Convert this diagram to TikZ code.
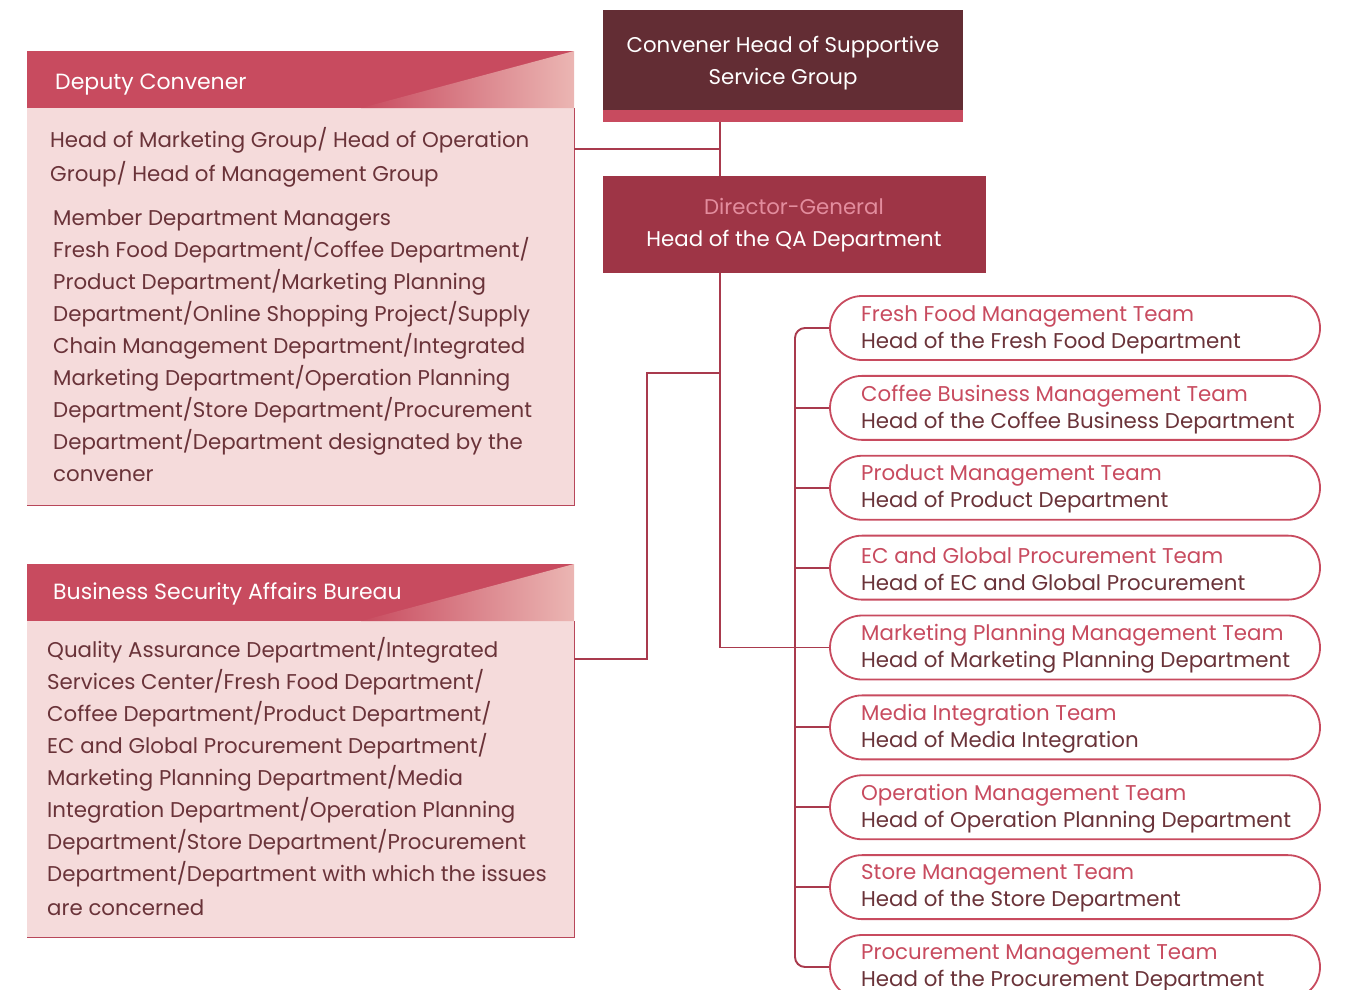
\documentclass[tikz,border=0pt]{standalone}
\usepackage{fontspec}
\setmainfont{Poppins}
\definecolor{hdr}{HTML}{C84B5F}
\definecolor{hdrlight}{HTML}{EBB6B3}
\definecolor{bodypink}{HTML}{F5DBDB}
\definecolor{ink}{HTML}{6A3339}
\definecolor{convfill}{HTML}{632D34}
\definecolor{dgred}{HTML}{9E3546}
\definecolor{dgpink}{HTML}{E38D9E}
\definecolor{wire}{HTML}{A93A4D}
\definecolor{edge}{HTML}{B8475A}
\begin{document}
\begin{tikzpicture}[x=1pt,y=-1pt,
  bodyline/.style={inner sep=0pt, font=\fontsize{21.35}{27}\selectfont, text=ink, anchor=base west},
  headline/.style={inner sep=0pt, font=\fontsize{22}{27}\selectfont, text=white, anchor=base west},
  hdrbar/.style={fill=hdr, draw=none, minimum width=547pt, minimum height=57pt, anchor=north west, inner sep=0pt},
  bodybox/.style={fill=bodypink, draw=none, minimum width=547pt, anchor=north west, inner sep=0pt},
  team/.style={draw=hdr, line width=1.8pt, fill=white, rounded corners=32pt,
    minimum width=490pt, minimum height=64pt, inner sep=0pt},
  teamtext/.style={inner sep=0pt, align=left, anchor=west, text=ink,
    font=\fontsize{21.35}{27}\selectfont},
  wireline/.style={draw=wire, line width=1.9pt}]
\useasboundingbox (0,0) rectangle (1351,989);
\clip (0,0) rectangle (1351,989);

% ---------- Deputy Convener panel ----------
\node[bodybox, minimum height=397pt] (dcb) at (27,108) {};
\draw[edge, line width=1.8pt] (dcb.north east) -- (dcb.south east) -- (dcb.south west);
\node[hdrbar] (dch) at (27,51) {};
\shade[left color=hdr, right color=hdrlight] (361,108) -- (574,51) -- (574,108) -- cycle;
\node[headline] (dct) at (55,89) {Deputy Convener};
\foreach \l/\x/\y [count=\i] in {
  {Head of Marketing Group/ Head of Operation}/50/147,
  {Group/ Head of Management Group}/50/181,
  {Member Department Managers}/53/225,
  {Fresh Food Department/Coffee Department/}/53/257,
  {Product Department/Marketing Planning}/53/289,
  {Department/Online Shopping Project/Supply}/53/321,
  {Chain Management Department/Integrated}/53/353,
  {Marketing Department/Operation Planning}/53/385,
  {Department/Store Department/Procurement}/53/417,
  {Department/Department designated by the}/53/449,
  {convener}/53/481}
  \node[bodyline] (dcl-\i) at (\x,\y) {\l};

% ---------- Business Security Affairs Bureau panel ----------
\node[bodybox, minimum height=316pt] (bsb) at (27,621) {};
\draw[edge, line width=1.8pt] (bsb.north east) -- (bsb.south east) -- (bsb.south west);
\node[hdrbar] (bsh) at (27,564) {};
\shade[left color=hdr, right color=hdrlight] (361,621) -- (574,564) -- (574,621) -- cycle;
\node[headline] (bst) at (53,599) {Business Security Affairs Bureau};
\foreach \l/\y [count=\i] in {
  {Quality Assurance Department/Integrated}/657,
  {Services Center/Fresh Food Department/}/689,
  {Coffee Department/Product Department/}/721,
  {EC and Global Procurement Department/}/753,
  {Marketing Planning Department/Media}/785,
  {Integration Department/Operation Planning}/817,
  {Department/Store Department/Procurement}/849,
  {Department/Department with which the issues}/881,
  {are concerned}/915}
  \node[bodyline] (bsl-\i) at (47,\y) {\l};

% ---------- Convener and Director-General ----------
\node[fill=convfill, minimum width=360pt, minimum height=112pt, anchor=north west, inner sep=0pt] (conv) at (603,10) {};
\fill[hdr] (603,110) rectangle (963,122);
\node[inner sep=0pt, text=white, align=center, font=\fontsize{21.3}{32}\selectfont] (convt) at (783,63) {Convener Head of Supportive\\Service Group};

\node[fill=dgred, minimum width=383pt, minimum height=97pt, anchor=north west, inner sep=0pt] (dg) at (603,176) {};
\node[inner sep=0pt, align=center, font=\fontsize{21.3}{32}\selectfont] (dgt) at (794,225)
  {\textcolor{dgpink}{Director-General}\\\textcolor{white}{Head of the QA Department}};

% ---------- Team boxes ----------
\foreach \t/\s [count=\i, evaluate=\i as \cy using 328+79.875*(\i-1)] in {
  Fresh Food Management Team/Head of the Fresh Food Department,
  Coffee Business Management Team/Head of the Coffee Business Department,
  Product Management Team/Head of Product Department,
  EC and Global Procurement Team/Head of EC and Global Procurement,
  Marketing Planning Management Team/Head of Marketing Planning Department,
  Media Integration Team/Head of Media Integration,
  Operation Management Team/Head of Operation Planning Department,
  Store Management Team/Head of the Store Department,
  Procurement Management Team/Head of the Procurement Department}
  {
  \node[team] (t\i) at (1075,\cy) {};
  \node[teamtext] (tt\i) at (861,\cy+1.5) {\textcolor{hdr}{\t}\\\s};
  }

% ---------- Connectors ----------
\coordinate (spine) at (720,0);
\coordinate (trunk) at (795,0);
\coordinate (dcjoin) at (574,149);
\coordinate (bsjoin) at (574,659);
\coordinate (bend) at (647,373);

\draw[wireline] (conv.south -| spine) -- (dg.north -| spine);
\draw[wireline] (dcjoin) -- (dcjoin -| spine);
\draw[wireline] (bsjoin) -| (bend) -- (bend -| spine);
\draw[wireline] (dg.south -| spine) |- (t5.west);
\draw[wireline, rounded corners=10pt] (t1.west) -| (trunk |- t5.west) |- (t9.west);
\foreach \i in {2,3,4,6,7,8}
  \draw[wireline] (t\i.west -| trunk) -- (t\i.west);
\end{tikzpicture}
\end{document}
